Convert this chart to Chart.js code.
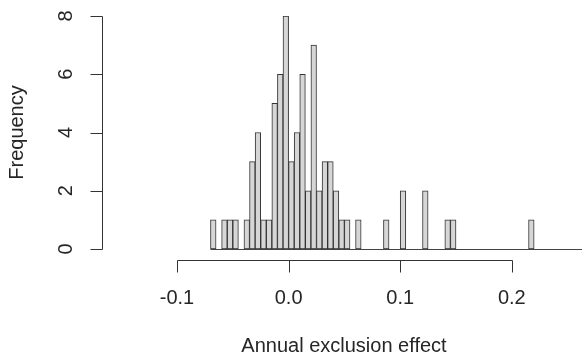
<!DOCTYPE html>
<html>
<head>
<meta charset="utf-8">
<script src="https://cdn.jsdelivr.net/npm/chart.js@4"></script>
<style>
html,body{margin:0;padding:0;background:#fff;}
#wrap{width:582px;height:357px;position:relative;}
</style>
</head>
<body>
<div id="wrap"><canvas id="c" width="582" height="357"></canvas></div>
<script>
// Histogram bins: left edge of first bin, bin width, counts per bin
const binStart = -0.07;
const binWidth = 0.005;
const counts = [
  1,0,1,1,1,0,1,3,4,1,
  1,5,6,8,3,4,6,2,7,2,
  3,3,2,1,1,0,1,0,0,0,
  0,1,0,0,2,0,0,0,2,0,
  0,0,1,1,0,0,0,0,0,0,
  0,0,0,0,0,0,0,1,0,0,
  0,0,0,0,0,0
];
const xTicks = [-0.1, 0.0, 0.1, 0.2];
const xTickLabels = ["-0.1", "0.0", "0.1", "0.2"];
const yTicks = [0, 2, 4, 6, 8];
const yTickLabels = ["0", "2", "4", "6", "8"];
const xTitle = "Annual exclusion effect";
const yTitle = "Frequency";

const points = counts.map((c, i) => ({ x: binStart + binWidth * (i + 0.5), y: c }));

const FONT = '"Liberation Sans", Arial, sans-serif';
const AX = '#333333';

const rAxes = {
  id: 'rAxes',
  beforeDatasetsDraw(chart) {
    const ctx = chart.ctx, xs = chart.scales.x, ys = chart.scales.y;
    ctx.save();
    ctx.strokeStyle = '#444444';
    ctx.lineWidth = 1;
    const y0 = Math.round(ys.getPixelForValue(0)) + 0.5;
    ctx.beginPath();
    ctx.moveTo(xs.getPixelForValue(binStart), y0);
    ctx.lineTo(chart.width, y0);
    ctx.stroke();
    ctx.restore();
  },
  afterDraw(chart) {
    const ctx = chart.ctx, xs = chart.scales.x, ys = chart.scales.y;
    ctx.save();
    ctx.strokeStyle = AX;
    ctx.fillStyle = '#262626';
    ctx.lineWidth = 1;
    // x axis
    const xAxisY = 260.5;
    const xa = xs.getPixelForValue(xTicks[0]), xb = xs.getPixelForValue(xTicks[xTicks.length - 1]);
    ctx.beginPath();
    ctx.moveTo(Math.round(xa) + 0.5, xAxisY);
    ctx.lineTo(Math.round(xb) + 0.5, xAxisY);
    xTicks.forEach(v => {
      const p = Math.round(xs.getPixelForValue(v)) + 0.5;
      ctx.moveTo(p, xAxisY);
      ctx.lineTo(p, xAxisY + 12);
    });
    ctx.stroke();
    ctx.font = '20px ' + FONT;
    ctx.textAlign = 'center';
    ctx.textBaseline = 'middle';
    xTicks.forEach((v, i) => {
      ctx.fillText(xTickLabels[i], xs.getPixelForValue(v), 298);
    });
    // y axis
    const yAxisX = 102.5;
    ctx.beginPath();
    ctx.moveTo(yAxisX, Math.round(ys.getPixelForValue(yTicks[0])) + 0.5);
    ctx.lineTo(yAxisX, Math.round(ys.getPixelForValue(yTicks[yTicks.length - 1])) + 0.5);
    yTicks.forEach(v => {
      const p = Math.round(ys.getPixelForValue(v)) + 0.5;
      ctx.moveTo(yAxisX, p);
      ctx.lineTo(yAxisX - 12, p);
    });
    ctx.stroke();
    yTicks.forEach((v, i) => {
      ctx.save();
      ctx.translate(66, ys.getPixelForValue(v));
      ctx.rotate(-Math.PI / 2);
      ctx.fillText(yTickLabels[i], 0, 0);
      ctx.restore();
    });
    // titles
    ctx.font = '20px ' + FONT;
    ctx.fillText(xTitle, 344, 346);
    ctx.save();
    ctx.translate(17, (ys.getPixelForValue(0) + ys.getPixelForValue(8)) / 2);
    ctx.rotate(-Math.PI / 2);
    ctx.fillText(yTitle, 0, 0);
    ctx.restore();
    ctx.restore();
  }
};

new Chart(document.getElementById('c'), {
  type: 'bar',
  data: {
    datasets: [{
      data: points,
      backgroundColor: '#d6d6d6',
      borderColor: '#333333',
      borderWidth: 1,
      borderSkipped: false,
      barPercentage: 1,
      categoryPercentage: 1
    }]
  },
  options: {
    responsive: false,
    animation: false,
    devicePixelRatio: 1,
    layout: { padding: { left: 177, right: 1, top: 16, bottom: 108 } },
    plugins: { legend: { display: false }, tooltip: { enabled: false } },
    scales: {
      x: { type: 'linear', min: -0.1, max: 0.262, offset: false, display: false },
      y: { min: 0, max: 8, display: false }
    }
  },
  plugins: [rAxes]
});
</script>
</body>
</html>
